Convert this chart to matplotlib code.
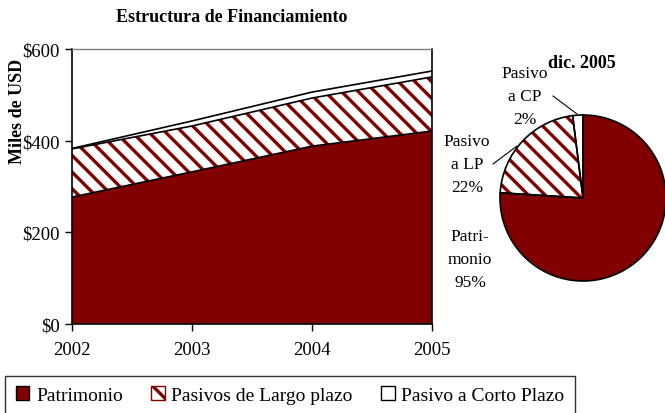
import matplotlib
matplotlib.use("Agg")
import matplotlib.pyplot as plt
from matplotlib.patches import Patch
import numpy as np

# data (miles de USD)
years = [2002, 2003, 2004, 2005]
patrimonio = [277, 332, 388, 421]
pasivo_lp = [105, 100, 105, 118]
pasivo_cp = [1, 11, 13, 13]

# pie for dic. 2005 (shares), with the labels as printed in the chart
pie_vals = [76, 22, 2]
pie_labels = ["Patri-\nmonio\n95%", "Pasivo\na LP\n22%", "Pasivo\na CP\n2%"]

y_ticks = [0, 200, 400, 600]
y_tick_labels = ["$0", "$200", "$400", "$600"]

maroon = "#800000"
HATCH = "\\\\"
plt.rcParams["font.family"] = ["Liberation Serif", "DejaVu Serif"]
plt.rcParams["hatch.linewidth"] = 2.4

W, H = 665, 414
fig = plt.figure(figsize=(W / 100, H / 100), dpi=100)

# ---- area chart ----
ax = fig.add_axes([72 / W, 1 - 325 / H, 360 / W, 275 / H])
x = np.array(years)
p = np.array(patrimonio)
lp = p + np.array(pasivo_lp)
tot = lp + np.array(pasivo_cp)

ax.fill_between(x, 0, p, facecolor=maroon, linewidth=0)
ax.fill_between(x, p, lp, facecolor="white", edgecolor=maroon, hatch=HATCH, linewidth=0)
ax.fill_between(x, lp, tot, facecolor="white", linewidth=0)
for top in (p, lp, tot):
    ax.plot(x, top, color="black", lw=1.2, solid_joinstyle="miter")

ax.set_xlim(years[0], years[-1])
ax.set_ylim(0, 600)
ax.set_xticks(years)
ax.set_yticks(y_ticks)
ax.set_yticklabels(y_tick_labels)
ax.tick_params(direction="out", length=5, width=1, pad=4, labelsize=13.5)
ax.tick_params(axis="x", pad=7)
for s in ("left", "bottom", "right"):
    ax.spines[s].set_color("black")
    ax.spines[s].set_linewidth(1.2)
ax.spines["top"].set_color("#808080")
ax.spines["top"].set_linewidth(1)
ax.set_ylabel("Miles de USD", fontweight="bold", fontsize=13)
ax.yaxis.set_label_coords(-0.128, 0.778)

fig.text(232 / W, 1 - 18 / H, "Estructura de Financiamiento", ha="center", va="center",
         fontweight="bold", fontsize=13)

# ---- pie ----
r = 83
cx, cy = 583, 199
pax = fig.add_axes([(cx - r) / W, 1 - (cy + r) / H, 2 * r / W, 2 * r / H])
wedges, _ = pax.pie(pie_vals, startangle=90, counterclock=False, radius=1,
                    colors=[maroon, "white", "white"],
                    wedgeprops=dict(linewidth=0))
wedges[1].set_hatch(HATCH)
wedges[1].set_edgecolor(maroon)
pax.pie(pie_vals, startangle=90, counterclock=False, radius=1,
        colors=["none"] * 3, wedgeprops=dict(linewidth=1.2, edgecolor="black"))
pax.set_xlim(-1, 1)
pax.set_ylim(-1, 1)
pax.set_aspect("equal")
pax.axis("off")

fig.text(582 / W, 1 - 63 / H, "dic. 2005", ha="center", va="center",
         fontweight="bold", fontsize=13)
label_pos = [(470, 260), (467, 165), (525, 97)]
for lab, (lx, ly) in zip(pie_labels, label_pos):
    fig.text(lx / W, 1 - ly / H, lab, ha="center", va="center", fontsize=12.5,
             linespacing=1.55)
# leader lines
fig.add_artist(plt.Line2D([493 / W, 517 / W], [1 - 165 / H, 1 - 147 / H], color="black", lw=0.8))
fig.add_artist(plt.Line2D([553 / W, 577 / W], [1 - 97 / H, 1 - 115 / H], color="black", lw=0.8))

# ---- legend ----
handles = [
    Patch(facecolor=maroon, edgecolor="black", label="Patrimonio"),
    Patch(facecolor="white", edgecolor=maroon, hatch=HATCH, label="Pasivos de Largo plazo"),
    Patch(facecolor="white", edgecolor="black", label="Pasivo a Corto Plazo"),
]
leg = fig.legend(handles=handles, loc="center", bbox_to_anchor=(290 / W, 1 - 396 / H),
                 ncol=3, frameon=True, fancybox=False, edgecolor="black",
                 fontsize=14, handlelength=0.7, handleheight=0.7, handletextpad=0.35,
                 columnspacing=1.45, borderpad=0.55)
leg.get_frame().set_linewidth(1)

fig.savefig("out.png", dpi=100)
